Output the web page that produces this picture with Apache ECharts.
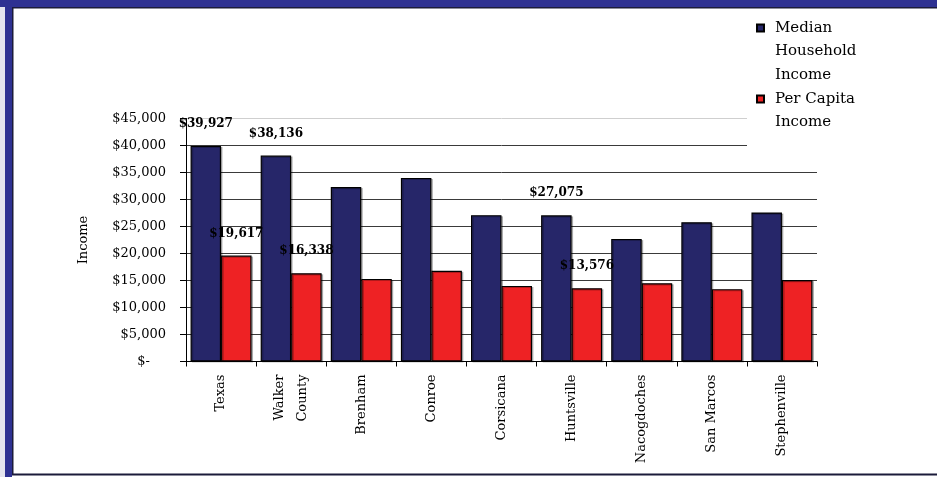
<!DOCTYPE html>
<html>
<head>
<meta charset="utf-8">
<script src="https://cdn.jsdelivr.net/npm/echarts@6/dist/echarts.min.js"></script>
<style>
html,body{margin:0;padding:0;background:#fff;}
#chart{width:937px;height:477px;}
</style>
</head>
<body>
<div id="chart"></div>
<script>
// ---- data ----
const categories = ['Texas', 'Walker\nCounty', 'Brenham', 'Conroe', 'Corsicana', 'Huntsville', 'Nacogdoches', 'San Marcos', 'Stephenville'];
const medianHousehold = [39927, 38136, 32300, 34000, 27100, 27075, 22700, 25800, 27600];
const perCapita = [19617, 16338, 15300, 16800, 14000, 13576, 14500, 13400, 15100];
const labelledCategories = ['Texas', 'Walker\nCounty', 'Huntsville'];
const yTickValues = [0, 5000, 10000, 15000, 20000, 25000, 30000, 35000, 40000, 45000];
const yTickLabels = ['$-', '$5,000', '$10,000', '$15,000', '$20,000', '$25,000', '$30,000', '$35,000', '$40,000', '$45,000'];
const seriesNames = ['Median Household Income', 'Per Capita Income'];
const legendLines = [['Median', 'Household', 'Income'], ['Per Capita', 'Income']];

const FONT = 'DejaVu Serif';
const NAVY = '#262669';
const RED = '#EE2224';
const FRAME = '#2E3192';

function money(v) { return '$' + Number(v).toLocaleString('en-US'); }

function buildData(values) {
  return values.map((v, i) => ({
    value: v,
    label: { show: labelledCategories.indexOf(categories[i]) >= 0 }
  }));
}

// legend text: pad with leading empty lines so the first line sits level with the icon
function legendText(name) {
  const lines = legendLines[seriesNames.indexOf(name)];
  const pad = new Array(lines.length - 1).fill(' ');
  return pad.concat(lines).join('\n');
}

const barStyle = (color) => ({
  color: color,
  borderColor: '#000',
  borderWidth: 1.2,
  shadowColor: 'rgba(0,0,0,0.25)',
  shadowOffsetX: 1.5,
  shadowOffsetY: 1,
  shadowBlur: 0
});

const barLabel = {
  position: 'top',
  distance: 16,
  fontFamily: FONT,
  fontWeight: 'bold',
  fontSize: 12,
  color: '#000',
  formatter: (p) => money(p.value)
};

const chart = echarts.init(document.getElementById('chart'), null, { renderer: 'canvas' });

const splitColors = yTickValues.map((v, i) => i === yTickValues.length - 1 ? '#cfcfcf' : '#3a3a3a');

chart.setOption({
  animation: false,
  backgroundColor: '#fff',
  grid: { left: 186, right: 120, top: 118.5, bottom: 115.5, containLabel: false },
  legend: {
    orient: 'vertical',
    left: 756,
    top: -30.75,
    padding: 0,
    itemGap: -23,
    itemWidth: 7,
    itemHeight: 7,
    icon: 'rect',
    selectedMode: false,
    textStyle: { fontFamily: FONT, fontSize: 15, color: '#000', lineHeight: 23.5, padding: [0, 0, 0, 6] },
    data: seriesNames,
    formatter: legendText
  },
  xAxis: {
    type: 'category',
    data: categories,
    axisLine: { show: true, lineStyle: { color: '#000', width: 1 } },
    axisTick: { show: true, length: 5, interval: 0, lineStyle: { color: '#000' } },
    axisLabel: {
      interval: 0,
      rotate: 90,
      margin: 13,
      fontFamily: FONT,
      fontSize: 13,
      lineHeight: 23.5,
      color: '#000'
    },
    splitLine: { show: false }
  },
  yAxis: {
    type: 'value',
    min: 0,
    max: 45000,
    interval: 5000,
    name: 'Income',
    nameLocation: 'middle',
    nameRotate: 90,
    nameGap: 96,
    nameTextStyle: { fontFamily: FONT, fontSize: 13, color: '#000' },
    axisLine: { show: true, lineStyle: { color: '#000', width: 1 } },
    axisTick: { show: true, length: 6, lineStyle: { color: '#000' } },
    axisLabel: {
      margin: 20,
      fontFamily: FONT,
      fontSize: 13,
      color: '#000',
      formatter: (v) => {
        const i = yTickValues.indexOf(v);
        const t = i >= 0 ? yTickLabels[i] : money(v);
        return v === 0 ? '{z|' + t + '}' : t;
      },
      rich: { z: { fontFamily: FONT, fontSize: 13, color: '#000', padding: [0, 16, 0, 0] } }
    },
    splitLine: { show: true, lineStyle: { color: splitColors, width: 1 } }
  },
  series: [
    {
      name: seriesNames[0],
      type: 'bar',
      barGap: '0%',
      barCategoryGap: '13%',
      data: buildData(medianHousehold),
      itemStyle: barStyle(NAVY),
      label: barLabel
    },
    {
      name: seriesNames[1],
      type: 'bar',
      barGap: '0%',
      barCategoryGap: '13%',
      data: buildData(perCapita),
      itemStyle: barStyle(RED),
      label: barLabel
    }
  ],
  graphic: {
    elements: [
      { type: 'rect', z: 1, shape: { x: 747, y: 9, width: 190, height: 142 }, style: { fill: '#fff' }, silent: true },
      { type: 'rect', z: 10, shape: { x: 0, y: 0, width: 5, height: 477 }, style: { fill: '#e4e4ee' }, silent: true },
      { type: 'rect', z: 10, shape: { x: 0, y: 0, width: 937, height: 7 }, style: { fill: FRAME }, silent: true },
      { type: 'rect', z: 10, shape: { x: 5, y: 0, width: 7, height: 477 }, style: { fill: FRAME }, silent: true },
      { type: 'rect', z: 11, shape: { x: 12, y: 7, width: 925, height: 1.5 }, style: { fill: '#1b1b3a' }, silent: true },
      { type: 'rect', z: 11, shape: { x: 12, y: 7, width: 1.5, height: 468 }, style: { fill: '#1b1b3a' }, silent: true },
      { type: 'rect', z: 11, shape: { x: 12, y: 473.5, width: 925, height: 2 }, style: { fill: '#1b1b3a' }, silent: true }
    ]
  }
});
</script>
</body>
</html>
